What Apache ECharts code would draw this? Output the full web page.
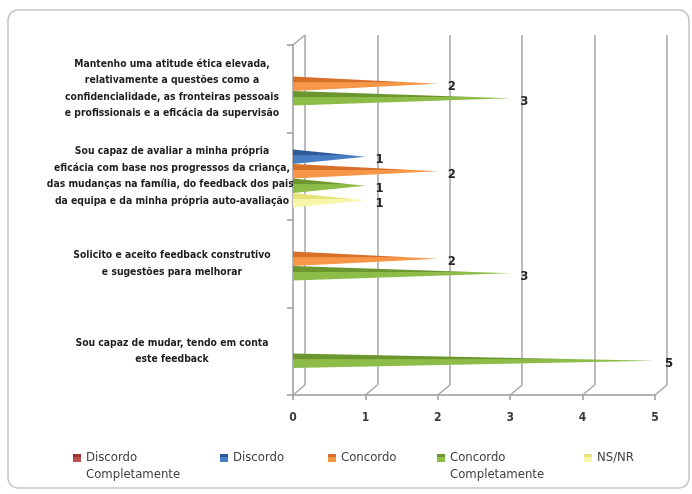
<!DOCTYPE html>
<html>
<head>
<meta charset="utf-8">
<script src="https://cdn.jsdelivr.net/npm/echarts@6/dist/echarts.min.js"></script>
<style>
  html, body { margin: 0; padding: 0; background: #ffffff; }
  #chart { width: 692px; height: 494px; }
</style>
</head>
<body>
<div id="chart"></div>
<script>
// Statements (already wrapped into lines), listed top to bottom
const categories = [
  'Mantenho uma atitude ética elevada,\nrelativamente a questões como a\nconfidencialidade, as fronteiras pessoais\ne profissionais e a eficácia da supervisão',
  'Sou capaz de avaliar a minha própria\neficácia com base nos progressos da criança,\ndas mudanças na família, do feedback dos pais,\nda equipa e da minha própria auto-avaliação',
  'Solicito e aceito feedback construtivo\ne sugestões para melhorar',
  'Sou capaz de mudar, tendo em conta\neste feedback'
];

// Number of answers per statement
const discordoCompletamente = [null, null, null, null];
const discordo = [null, 1, null, null];
const concordo = [2, 2, 2, null];
const concordoCompletamente = [3, 1, 3, 5];
const nsnr = [null, 1, null, null];

const seriesNames = ['Discordo Completamente', 'Discordo', 'Concordo', 'Concordo Completamente', 'NS/NR'];
const valueTicks = [0, 1, 2, 3, 4, 5];

const seriesData = [discordoCompletamente, discordo, concordo, concordoCompletamente, nsnr];
// [shaded top face, lit face]
const seriesColors = [
  ['#9a3431', '#c0504d'],
  ['#2d5b9a', '#4a7ec2'],
  ['#d8702a', '#f79646'],
  ['#6b9630', '#8dbd48'],
  ['#e8e27a', '#f8f6a8']
];
const legendLeft = [73, 220, 328, 437, 584];

const FONT = "'DejaVu Sans Condensed', 'Liberation Sans', sans-serif";

const chart = echarts.init(document.getElementById('chart'), null, { renderer: 'canvas' });

// Front plane of the 3D frame, the back wall up and to the right,
// and the depth plane the cones sit in
const front = { left: 293, right: 37, top: 45, bottom: 99 };
const back = { left: 305, right: 25, top: 35, bottom: 109 };
const middle = { left: 293, right: 37, top: 40, bottom: 104 };

function coneGradient(c) {
  return new echarts.graphic.LinearGradient(0, 0, 0, 1, [
    { offset: 0, color: c[0] },
    { offset: 0.38, color: c[0] },
    { offset: 0.42, color: c[1] },
    { offset: 1, color: c[1] }
  ]);
}

const series = seriesNames.map((name, i) => ({
  type: 'pictorialBar',
  name: name,
  xAxisIndex: 2,
  yAxisIndex: 2,
  data: seriesData[i],
  symbol: 'path://M0,0L100,50L0,100Z',
  symbolSize: ['100%', '100%'],
  symbolPosition: 'start',
  symbolRepeat: false,
  barWidth: 14.5,
  barGap: '0%',
  z: 5,
  itemStyle: { color: coneGradient(seriesColors[i]) },
  label: {
    show: true,
    position: 'right',
    distance: 10,
    offset: [0, 3],
    fontFamily: FONT,
    fontSize: 13,
    fontWeight: 'bold',
    color: '#262626'
  }
}));

const legends = seriesNames.map((name, i) => {
  const twoLines = name.indexOf(' ') >= 0;
  return {
    data: [name],
    left: legendLeft[i],
    // icon centred on the first text line
    top: twoLines ? 432.5 : 449.5,
    padding: 0,
    orient: 'horizontal',
    icon: 'rect',
    itemWidth: 8,
    itemHeight: 8,
    selectedMode: false,
    formatter: n => twoLines ? '\n' + n.split(' ').join('\n') : n,
    textStyle: {
      fontFamily: FONT,
      fontSize: 13,
      lineHeight: 17,
      color: '#404040'
    }
  };
});

const hiddenValueAxis = (gridIndex) => ({
  type: 'value', gridIndex: gridIndex, min: 0, max: 5, interval: 1,
  axisLine: { show: false }, axisTick: { show: false }, axisLabel: { show: false },
  splitLine: { show: false }
});
const hiddenCategoryAxis = (gridIndex) => ({
  type: 'category', gridIndex: gridIndex, data: categories, inverse: true,
  axisLine: { show: false }, axisTick: { show: false }, axisLabel: { show: false },
  splitLine: { show: false }
});

const backValueAxis = hiddenValueAxis(1);
backValueAxis.splitLine = { show: true, lineStyle: { color: '#a6a6a6', width: 1.5 } };

const option = {
  backgroundColor: '#ffffff',
  animation: false,
  grid: [
    Object.assign({ containLabel: false }, front),
    Object.assign({ containLabel: false }, back),
    Object.assign({ containLabel: false }, middle)
  ],
  xAxis: [
    {
      type: 'value', gridIndex: 0, min: 0, max: 5, interval: 1,
      axisLine: { show: true, lineStyle: { color: '#9a9a9a', width: 1.5 } },
      axisTick: { show: true, length: 5, lineStyle: { color: '#9a9a9a', width: 1.5 } },
      splitLine: { show: false },
      axisLabel: {
        margin: 17,
        formatter: v => valueTicks.indexOf(v) >= 0 ? String(v) : '',
        fontFamily: FONT, fontSize: 12, fontWeight: 'bold', color: '#3a3a3a'
      }
    },
    backValueAxis,
    hiddenValueAxis(2)
  ],
  yAxis: [
    {
      type: 'category', gridIndex: 0, data: categories, inverse: true,
      axisLine: { show: true, lineStyle: { color: '#9a9a9a', width: 1.5 } },
      axisTick: { show: true, length: 6, lineStyle: { color: '#9a9a9a', width: 1.5 } },
      splitLine: { show: false },
      axisLabel: {
        margin: 121,
        align: 'center',
        fontFamily: FONT, fontSize: 10.3, fontWeight: 'bold', lineHeight: 16.5, color: '#1e1e1e'
      }
    },
    hiddenCategoryAxis(1),
    hiddenCategoryAxis(2)
  ],
  legend: legends,
  series: series
};

chart.setOption(option);

// Depth edges joining the front plane to the back wall, plus the rounded frame
const edges = [];
const edgeStyle = { stroke: '#a6a6a6', lineWidth: 1.5 };
valueTicks.forEach(v => {
  const f = chart.convertToPixel({ xAxisIndex: 0 }, v);
  const b = chart.convertToPixel({ xAxisIndex: 1 }, v);
  edges.push({
    type: 'line', silent: true, z: 1,
    shape: { x1: f, y1: 494 - front.bottom, x2: b, y2: 494 - back.bottom },
    style: edgeStyle
  });
});
const f0 = chart.convertToPixel({ xAxisIndex: 0 }, 0);
const b0 = chart.convertToPixel({ xAxisIndex: 1 }, 0);
edges.push({
  type: 'line', silent: true, z: 1,
  shape: { x1: f0, y1: front.top, x2: b0, y2: back.top },
  style: edgeStyle
});
edges.push({
  type: 'rect', silent: true, z: 0,
  shape: { x: 8, y: 10, width: 681, height: 478, r: 10 },
  style: { fill: 'none', stroke: '#c9c4c4', lineWidth: 1.5 }
});
chart.setOption({ graphic: edges });
</script>
</body>
</html>
